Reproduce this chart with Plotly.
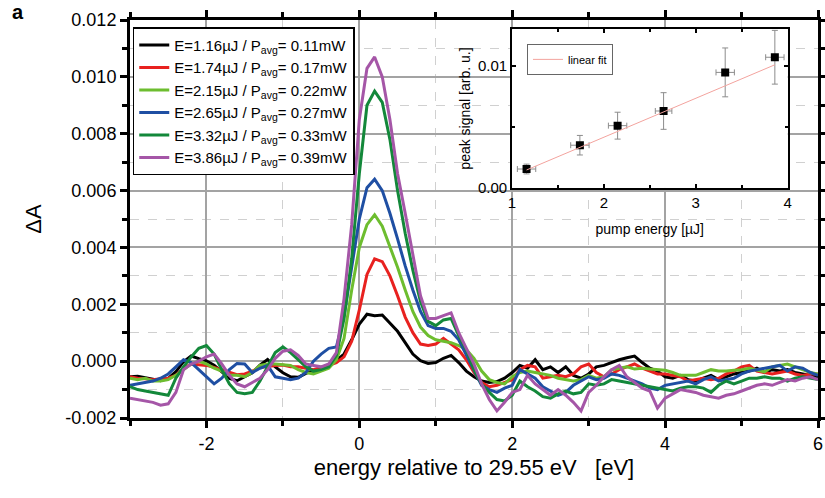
import numpy as np
import plotly.graph_objects as go

# ---------------- data ----------------
energy_eV = np.round(np.linspace(-3.0, 6.0, 91), 2)

# ΔA values in units of 1e-3, sampled every 0.1 eV from -3.0 to 6.0
dA_116 = [-0.55, -0.53, -0.58, -0.64, -0.69, -0.61, -0.37, -0.02, 0.18, 0.09,
          0.01, -0.14, -0.37, -0.61, -0.69, -0.55, -0.41, -0.14, 0.06, -0.20,
          -0.41, -0.55, -0.57, -0.43, -0.34, -0.22, -0.14, 0.03, 0.25, 0.75,
          1.30, 1.65, 1.60, 1.62, 1.35, 1.05, 0.65, 0.25, 0.02, -0.08,
          -0.05, 0.10, 0.20, -0.05, -0.35, -0.55, -0.70, -0.75, -0.72, -0.60,
          -0.40, -0.15, -0.25, 0.05, -0.30, -0.20, -0.40, -0.20, -0.50, -0.60,
          -0.45, -0.20, -0.15, -0.05, 0.05, 0.12, 0.18, -0.05, -0.25, -0.35,
          -0.55, -0.60, -0.50, -0.65, -0.70, -0.60, -0.50, -0.65, -0.55, -0.45,
          -0.40, -0.35, -0.25, -0.40, -0.30, -0.35, -0.30, -0.40, -0.45, -0.50,
          -0.55]
dA_174 = [-0.55, -0.60, -0.62, -0.65, -0.62, -0.60, -0.50, -0.25, -0.10, -0.12,
          -0.15, -0.22, -0.30, -0.40, -0.48, -0.45, -0.35, -0.22, -0.18, -0.15,
          -0.14, -0.20, -0.20, -0.25, -0.30, -0.22, -0.15, -0.05, 0.15, 0.70,
          1.80, 3.05, 3.60, 3.50, 3.00, 2.30, 1.55, 1.00, 0.60, 0.55,
          0.60, 0.80, 0.60, 0.40, 0.05, -0.40, -0.75, -0.90, -0.85, -0.75,
          -0.65, -0.30, -0.15, -0.20, -0.60, -0.55, -0.50, -0.55, -0.45, -0.20,
          -0.10, -0.40, -0.55, -0.45, -0.30, -0.20, -0.10, -0.25, -0.35, -0.45,
          -0.45, -0.50, -0.55, -0.70, -0.65, -0.60, -0.65, -0.60, -0.45, -0.35,
          -0.20, -0.15, -0.35, -0.40, -0.45, -0.40, -0.35, -0.45, -0.50, -0.45,
          -0.45]
dA_215 = [-0.60, -0.65, -0.60, -0.70, -0.70, -0.65, -0.50, -0.30, -0.10, 0.00,
          -0.10, -0.25, -0.35, -0.50, -0.50, -0.55, -0.40, -0.15, -0.10, -0.10,
          -0.12, -0.15, -0.30, -0.40, -0.45, -0.35, -0.25, 0.05, 0.80, 2.50,
          4.00, 4.80, 5.15, 4.75, 4.05, 3.30, 2.50, 1.75, 1.20, 0.90,
          0.75, 0.70, 0.65, 0.55, 0.40, 0.10, -0.35, -0.65, -0.75, -0.80,
          -0.55, -0.40, -0.35, -0.40, -0.45, -0.50, -0.60, -0.65, -0.70, -0.65,
          -0.50, -0.60, -0.55, -0.30, -0.25, -0.20, -0.28, -0.25, -0.28, -0.30,
          -0.32, -0.40, -0.50, -0.50, -0.50, -0.40, -0.30, -0.35, -0.35, -0.32,
          -0.30, -0.25, -0.32, -0.38, -0.20, -0.15, -0.10, -0.20, -0.30, -0.40,
          -0.45]
dA_265 = [-0.85, -0.80, -0.75, -0.70, -0.60, -0.45, -0.20, 0.05, -0.05, -0.30,
          -0.55, -0.80, -0.60, -0.30, -0.08, -0.10, -0.40, -0.25, -0.15, -0.55,
          -0.60, -0.65, -0.60, -0.40, 0.00, 0.25, 0.45, 0.50, 1.60, 3.30,
          5.00, 6.10, 6.40, 6.00, 5.20, 4.30, 3.35, 2.50, 1.75, 1.25,
          1.15, 1.15, 1.05, 0.75, 0.20, -0.35, -0.85, -1.00, -1.10, -0.95,
          -0.85, -0.30, -0.45, -0.60, -0.90, -1.05, -1.20, -1.10, -0.85, -0.70,
          -0.55, -0.65, -0.60, -0.45, -0.50, -0.60, -0.70, -0.80, -0.95, -1.00,
          -0.85, -0.80, -0.75, -0.70, -0.80, -0.65, -0.55, -0.70, -0.65, -0.60,
          -0.45, -0.35, -0.30, -0.25, -0.20, -0.15, -0.35, -0.20, -0.25, -0.40,
          -0.50]
dA_332 = [-0.90, -1.00, -1.05, -1.10, -1.15, -1.20, -0.60, -0.20, 0.15, 0.45,
          0.55, 0.25, -0.30, -0.80, -1.10, -1.15, -1.10, -0.70, -0.20, 0.30,
          0.50, 0.30, 0.05, -0.20, -0.35, -0.30, -0.20, 0.20, 1.50, 3.60,
          6.60, 9.00, 9.50, 9.10, 7.80, 6.00, 4.50, 3.20, 2.10, 1.40,
          1.25, 1.45, 1.50, 0.90, 0.40, -0.30, -0.80, -1.10, -1.35, -1.40,
          -1.20, -0.70, -0.90, -1.05, -1.25, -1.30, -1.15, -1.05, -1.15, -1.10,
          -0.80, -0.85, -0.80, -0.65, -0.70, -0.75, -0.80, -0.85, -0.90, -0.95,
          -1.00, -1.05, -0.95, -0.90, -0.90, -0.95, -1.10, -0.85, -0.70, -0.80,
          -0.70, -0.60, -0.60, -0.55, -0.60, -0.60, -0.70, -0.60, -0.55, -0.60,
          -0.65]
dA_386 = [-1.30, -1.35, -1.40, -1.45, -1.55, -1.50, -1.10, -0.30, -0.10, 0.00,
          0.15, 0.25, -0.10, -0.50, -0.80, -0.90, -0.75, -0.60, -0.30, 0.10,
          0.35, 0.40, 0.20, -0.10, -0.15, -0.20, -0.10, 0.30, 2.20, 4.80,
          8.50, 10.30, 10.70, 10.00, 8.50, 6.60, 5.20, 3.70, 2.30, 1.50,
          1.50, 1.60, 1.70, 1.00, 0.45, -0.10, -0.80, -1.35, -1.75, -1.45,
          -1.10, -1.00, -0.50, -0.80, -1.00, -1.20, -1.00, -1.20, -1.45, -1.75,
          -1.10, -0.85, -0.55, -0.30, -0.15, -0.55, -0.75, -0.95, -1.05, -1.65,
          -1.30, -1.15, -1.00, -1.05, -1.10, -1.20, -1.25, -1.30, -1.20, -1.15,
          -1.05, -0.95, -0.85, -0.80, -0.85, -0.75, -0.65, -0.70, -0.60, -0.55,
          -0.65]

series = [dA_116, dA_174, dA_215, dA_265, dA_332, dA_386]
series_names = [
    "E=1.16µJ / P<sub>avg</sub>= 0.11mW",
    "E=1.74µJ / P<sub>avg</sub>= 0.17mW",
    "E=2.15µJ / P<sub>avg</sub>= 0.22mW",
    "E=2.65µJ / P<sub>avg</sub>= 0.27mW",
    "E=3.32µJ / P<sub>avg</sub>= 0.33mW",
    "E=3.86µJ / P<sub>avg</sub>= 0.39mW",
]
series_colors = ["#000000", "#e8211f", "#6dbd2f", "#1f4fa3", "#13883a", "#a556a7"]

# inset data
pump_energy = [1.16, 1.74, 2.15, 2.65, 3.32, 3.86]
pump_energy_err = [0.10, 0.10, 0.10, 0.09, 0.10, 0.10]
peak_signal = [0.00155, 0.0035, 0.0051, 0.0063, 0.00946, 0.0107]
peak_signal_err = [0.0004, 0.0008, 0.0011, 0.0015, 0.0020, 0.0022]
fit_slope = 0.00319
fit_intercept = -0.00223
fit_range = [1.16, 3.86]

x_ticks = [-2, 0, 2, 4, 6]
x_ticklabels = ["-2", "0", "2", "4", "6"]
y_ticks = [-0.002, 0.0, 0.002, 0.004, 0.006, 0.008, 0.010, 0.012]
y_ticklabels = ["-0.002", "0.000", "0.002", "0.004", "0.006", "0.008", "0.010", "0.012"]

# ---------------- figure ----------------
FONT = "Liberation Sans, Arial, sans-serif"
fig = go.Figure()

for vals, name, col in zip(series, series_names, series_colors):
    fig.add_trace(go.Scatter(
        x=energy_eV, y=np.array(vals) * 1e-3, mode="lines", name=name,
        line=dict(color=col, width=3), xaxis="x", yaxis="y", legend="legend"))

fig.add_trace(go.Scatter(
    x=pump_energy, y=peak_signal, mode="markers", showlegend=False,
    marker=dict(symbol="square", size=8, color="black"),
    error_x=dict(type="data", array=pump_energy_err, color="#8c8c8c", thickness=1, width=3),
    error_y=dict(type="data", array=peak_signal_err, color="#8c8c8c", thickness=1, width=3),
    xaxis="x2", yaxis="y2"))

fit_x = np.array(fit_range)
fig.add_trace(go.Scatter(
    x=fit_x, y=fit_slope * fit_x + fit_intercept, mode="lines", name="linear fit",
    line=dict(color="#f3a39e", width=1), xaxis="x2", yaxis="y2", legend="legend2"))

axis_common = dict(showline=True, linecolor="black", mirror="allticks",
                   zeroline=False, automargin=False)

fig.update_layout(
    width=825, height=498,
    margin=dict(l=130, r=7, t=20, b=80, autoexpand=False),
    paper_bgcolor="white", plot_bgcolor="white",
    font=dict(family=FONT, color="black"),
    xaxis=dict(
        **axis_common, domain=[0, 1], range=[-3, 6], linewidth=3,
        tickmode="array", tickvals=x_ticks, ticktext=x_ticklabels,
        ticks="outside", ticklen=7, tickwidth=3, tickcolor="black",
        tickfont=dict(size=18), showgrid=True, gridcolor="#a3a3a3", gridwidth=1.5,
        minor=dict(tickmode="linear", tick0=-3, dtick=1, ticks="outside", ticklen=5,
                   tickwidth=3, tickcolor="black", showgrid=True,
                   gridcolor="#d0d0d0", griddash="dash", gridwidth=1),
        title=dict(text="energy relative to 29.55 eV   [eV]", font=dict(size=22), standoff=8),
    ),
    yaxis=dict(
        **axis_common, domain=[0, 1], range=[-0.002, 0.012], linewidth=3,
        tickmode="array", tickvals=y_ticks, ticktext=y_ticklabels,
        ticks="outside", ticklen=7, tickwidth=3, tickcolor="black",
        tickfont=dict(size=18), showgrid=True, gridcolor="#a3a3a3", gridwidth=1.5,
        minor=dict(tickmode="linear", tick0=-0.001, dtick=0.002, ticks="outside", ticklen=5,
                   tickwidth=3, tickcolor="black", showgrid=True,
                   gridcolor="#d0d0d0", griddash="dash", gridwidth=1),
        title=dict(text="ΔA", font=dict(size=22), standoff=18),
    ),
    xaxis2=dict(
        **axis_common, domain=[0.555, 0.956], anchor="y2", range=[1, 4], linewidth=1.5,
        tickmode="linear", tick0=1, dtick=1, ticks="inside", ticklen=4, tickwidth=1.5,
        tickcolor="black", tickfont=dict(size=15), showgrid=False,
        minor=dict(tickmode="linear", tick0=1, dtick=0.5, ticks="inside", ticklen=3,
                   tickwidth=1.5, tickcolor="black"),
        title=dict(text="pump energy [µJ]", font=dict(size=14), standoff=14),
    ),
    yaxis2=dict(
        **axis_common, domain=[0.578, 0.977], anchor="x2", range=[0, 0.013], linewidth=1.5,
        tickmode="array", tickvals=[0.0, 0.01], ticktext=["0.00", "0.01"],
        ticks="inside", ticklen=4, tickwidth=1.5, tickcolor="black",
        tickfont=dict(size=15), showgrid=False,
        minor=dict(tickmode="linear", tick0=0, dtick=0.005, ticks="inside", ticklen=3,
                   tickwidth=1.5, tickcolor="black"),
        title=dict(text="peak signal [arb. u.]", font=dict(size=14), standoff=4),
    ),
    legend=dict(x=0.004, y=0.982, xanchor="left", yanchor="top",
                bgcolor="white", bordercolor="black", borderwidth=1.5,
                font=dict(size=15, family=FONT), tracegroupgap=0, itemwidth=30),
    legend2=dict(x=0.577, y=0.94, xanchor="left", yanchor="top",
                 bgcolor="white", bordercolor="#666666", borderwidth=1,
                 font=dict(size=11, family=FONT), itemwidth=30),
    annotations=[dict(text="<b>a</b>", x=(18 - 130) / 688, y=(418 - 12) / 398,
                      xref="paper", yref="paper", xanchor="center", yanchor="middle",
                      showarrow=False, font=dict(size=20))],
)

fig.write_html("out.html")
